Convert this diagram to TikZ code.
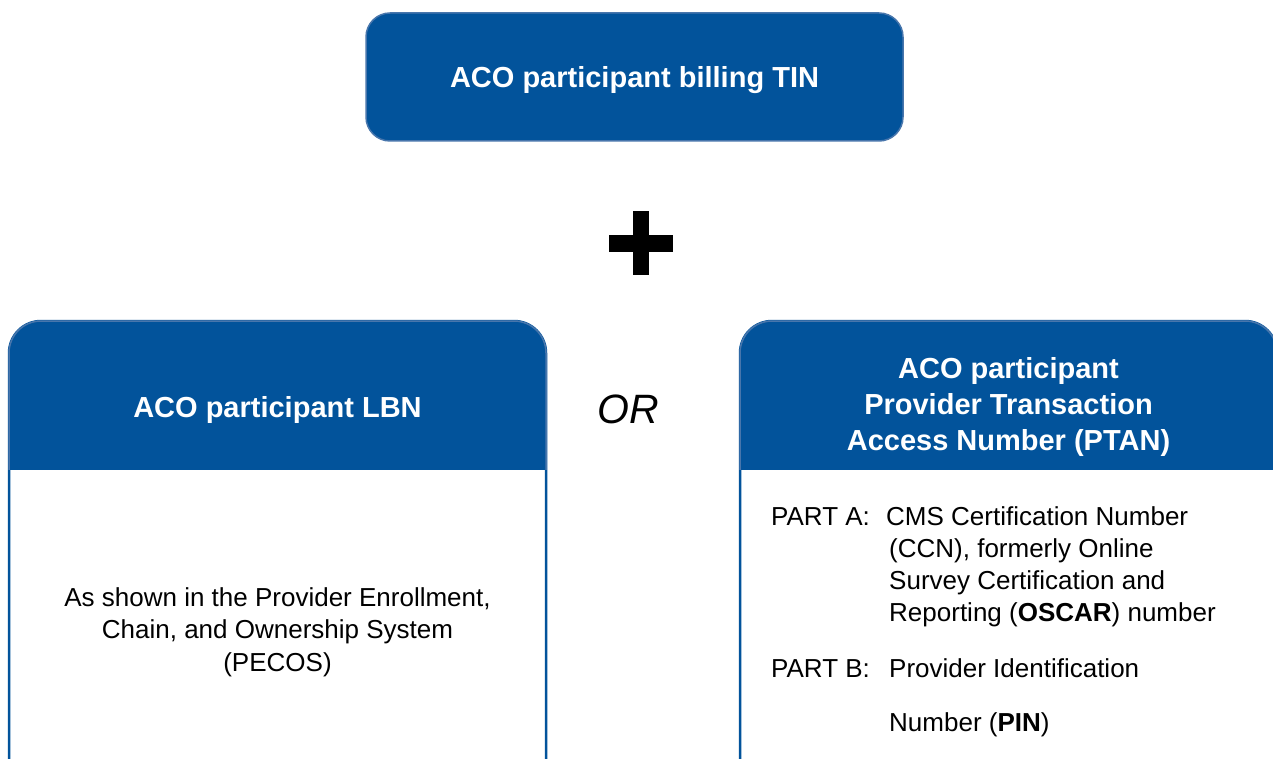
\documentclass[tikz,border=0pt]{standalone}
\usepackage{fontspec}
\setmainfont{Liberation Sans}
\definecolor{cmsblue}{RGB}{2,83,155}
\definecolor{edgeblue}{RGB}{72,118,172}

\begin{document}
\begin{tikzpicture}[x=1pt,y=-1pt,
  topbox/.style={rounded corners=24, fill=cmsblue, draw=edgeblue, line width=1.5,
    minimum width=537, minimum height=128, inner sep=0,
    text=white, font=\fontsize{29}{36}\selectfont\bfseries},
  headtext/.style={text=white, font=\fontsize{29}{36}\selectfont\bfseries,
    align=center, inner sep=0},
  bodytext/.style={text=black, font=\fontsize{26}{32}\selectfont, inner sep=0, anchor=base},
  bodyleft/.style={bodytext, anchor=base west},
  ortext/.style={font=\fontsize{41}{41}\selectfont\itshape, inner sep=0, anchor=base}
]
\useasboundingbox (0,0) rectangle (1273,759);
\clip (0,0) rectangle (1273,759);

% top identifier box
\node[topbox, text depth=0pt, text height=21pt] (tin) at (634.5,77) {ACO participant billing TIN};

% plus sign
\fill[black] (609,235) rectangle (673,252);
\fill[black] (633,211) rectangle (649,275);

% left and right column boxes: white body, blue header
\foreach \xl/\xr in {9/546, 740/1277}{
  \fill[white, rounded corners=32] (\xl,321) rectangle (\xr,900);
  \begin{scope}
    \clip (0,0) rectangle (1300,469);
    \fill[cmsblue, rounded corners=32] (\xl,321) rectangle (\xr,900);
  \end{scope}
  \draw[cmsblue, line width=2.5, rounded corners=32] (\xl,321) rectangle (\xr,900);
  \begin{scope}
    \clip (0,0) rectangle (1300,469);
    \draw[edgeblue, line width=1.5, rounded corners=32] (\xl,321) rectangle (\xr,900);
  \end{scope}
}

% headers
\node[headtext] (lbn) at (277.5,410) {ACO participant LBN};
\node[headtext] (ptan) at (1008.5,406.5) {ACO participant\\Provider Transaction\\Access Number (PTAN)};

% OR between the columns
\node[ortext] (or) at (628,423) {OR};

% left body
\node[bodytext] (pecosA) at (277.5,606) {As shown in the Provider Enrollment,};
\node[bodytext] (pecosB) at (277.5,638.5) {Chain, and Ownership System};
\node[bodytext] (pecosC) at (277.5,671) {(PECOS)};

% right body
\node[bodyleft] (partA) at (771,525) {PART A:};
\node[bodyleft] (ccnA) at (886,525) {CMS Certification Number};
\node[bodyleft] (ccnB) at (889,557) {(CCN), formerly Online};
\node[bodyleft] (ccnC) at (889,589) {Survey Certification and};
\node[bodyleft] (ccnD) at (889,621.5) {Reporting (\textbf{OSCAR}) number};
\node[bodyleft] (partB) at (771,677) {PART B:};
\node[bodyleft] (pinA) at (889,677) {Provider Identification};
\node[bodyleft] (pinB) at (889,731) {Number (\textbf{PIN})};
\end{tikzpicture}
\end{document}
